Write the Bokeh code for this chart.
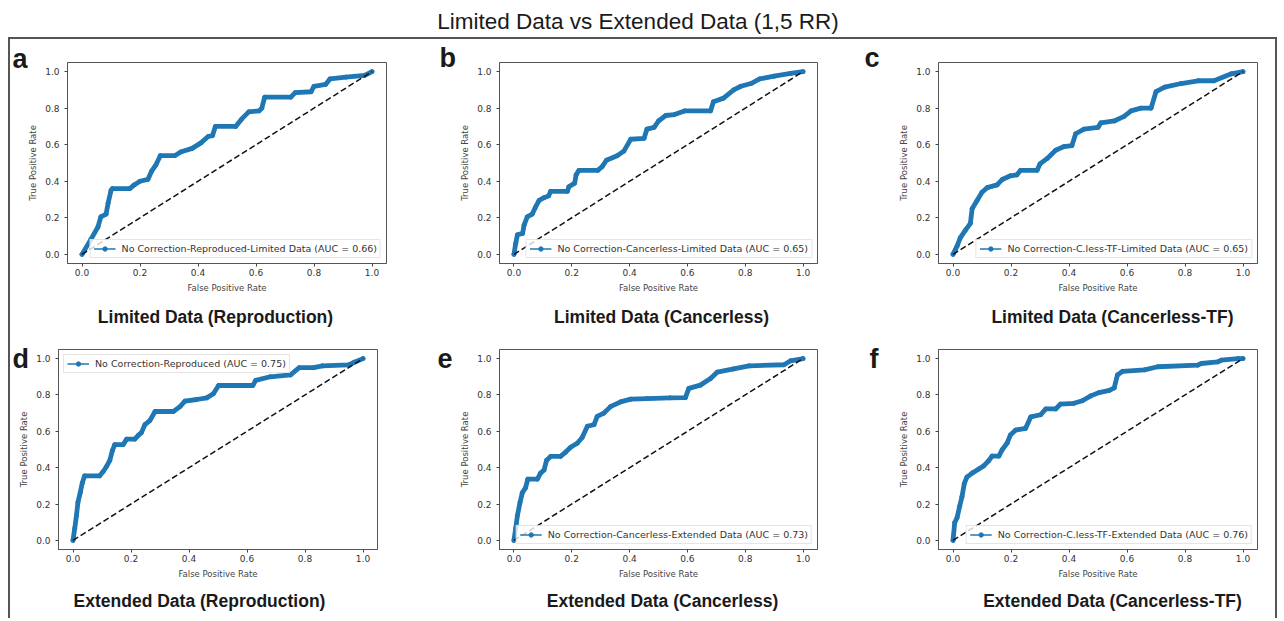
from bokeh.plotting import figure
from bokeh.models import (Range1d, Label, Legend, LegendItem, FixedTicker, PrintfTickFormatter, Spacer,
                          GridBox)
from bokeh.layouts import row, column
from bokeh.embed import file_html
from bokeh.resources import INLINE

# ---------------- data ----------------
main_title = "Limited Data vs Extended Data (1,5 RR)"

letters = ["a", "b", "c", "d", "e", "f"]
subtitles = ["Limited Data (Reproduction)", "Limited Data (Cancerless)", "Limited Data (Cancerless-TF)",
             "Extended Data (Reproduction)", "Extended Data (Cancerless)", "Extended Data (Cancerless-TF)"]
legend_labels = ["No Correction-Reproduced-Limited Data (AUC = 0.66)",
                 "No Correction-Cancerless-Limited Data (AUC = 0.65)",
                 "No Correction-C.less-TF-Limited Data (AUC = 0.65)",
                 "No Correction-Reproduced (AUC = 0.75)",
                 "No Correction-Cancerless-Extended Data (AUC = 0.73)",
                 "No Correction-C.less-TF-Extended Data (AUC = 0.76)"]

fpr_a = [0.0, 0.03, 0.055, 0.065, 0.083, 0.09, 0.10, 0.105, 0.165, 0.18, 0.20, 0.227, 0.24, 0.255, 0.27, 0.32,
         0.34, 0.38, 0.41, 0.435, 0.45, 0.46, 0.53, 0.55, 0.575, 0.61, 0.62, 0.63, 0.72, 0.735, 0.79, 0.80, 0.84,
         0.855, 0.91, 0.975, 1.0]
tpr_a = [0.0, 0.08, 0.15, 0.205, 0.22, 0.28, 0.35, 0.36, 0.36, 0.38, 0.40, 0.41, 0.455, 0.49, 0.54, 0.54,
         0.56, 0.58, 0.61, 0.645, 0.65, 0.70, 0.70, 0.74, 0.78, 0.785, 0.80, 0.86, 0.86, 0.885, 0.89, 0.92, 0.93,
         0.96, 0.97, 0.98, 1.0]

fpr_b = [0.0, 0.006, 0.012, 0.03, 0.035, 0.046, 0.063, 0.075, 0.087, 0.104, 0.12, 0.127, 0.185, 0.19, 0.21,
         0.215, 0.225, 0.29, 0.305, 0.32, 0.357, 0.38, 0.404, 0.45, 0.46, 0.485, 0.50, 0.525, 0.555, 0.59, 0.68,
         0.69, 0.725, 0.76, 0.785, 0.82, 0.85, 0.90, 0.957, 1.0]
tpr_b = [0.0, 0.06, 0.107, 0.115, 0.16, 0.205, 0.22, 0.26, 0.295, 0.31, 0.32, 0.345, 0.345, 0.37, 0.39,
         0.435, 0.46, 0.46, 0.48, 0.515, 0.54, 0.565, 0.63, 0.635, 0.685, 0.695, 0.73, 0.76, 0.765, 0.785, 0.785,
         0.835, 0.855, 0.90, 0.92, 0.935, 0.96, 0.975, 0.99, 1.0]

fpr_c = [0.0, 0.014, 0.025, 0.043, 0.06, 0.066, 0.083, 0.10, 0.118, 0.152, 0.17, 0.198, 0.22, 0.233, 0.29,
         0.30, 0.325, 0.354, 0.383, 0.41, 0.423, 0.452, 0.50, 0.51, 0.556, 0.59, 0.614, 0.648, 0.683, 0.70, 0.73,
         0.787, 0.845, 0.90, 0.96, 1.0]
tpr_c = [0.0, 0.045, 0.09, 0.133, 0.17, 0.25, 0.295, 0.34, 0.365, 0.38, 0.41, 0.43, 0.435, 0.46, 0.46,
         0.495, 0.525, 0.57, 0.59, 0.595, 0.66, 0.685, 0.695, 0.72, 0.73, 0.755, 0.785, 0.80, 0.80, 0.89, 0.915,
         0.935, 0.95, 0.95, 0.988, 1.0]

fpr_d = [0.0, 0.006, 0.012, 0.017, 0.025, 0.032, 0.04, 0.092, 0.104, 0.115, 0.127, 0.136, 0.144, 0.173, 0.185,
         0.213, 0.225, 0.236, 0.248, 0.265, 0.283, 0.346, 0.369, 0.386, 0.427, 0.461, 0.484, 0.502, 0.62, 0.63,
         0.68, 0.75, 0.78, 0.83, 0.86, 0.95, 0.97, 1.0]
tpr_d = [0.0, 0.066, 0.137, 0.209, 0.263, 0.316, 0.355, 0.355, 0.379, 0.405, 0.44, 0.495, 0.527, 0.527, 0.557,
         0.557, 0.578, 0.593, 0.637, 0.659, 0.709, 0.709, 0.736, 0.766, 0.775, 0.784, 0.807, 0.852, 0.852, 0.88,
         0.90, 0.91, 0.95, 0.95, 0.96, 0.965, 0.98, 1.0]

fpr_e = [0.0, 0.006, 0.012, 0.021, 0.029, 0.04, 0.048, 0.081, 0.092, 0.104, 0.113, 0.127, 0.161, 0.179, 0.196,
         0.219, 0.236, 0.254, 0.277, 0.288, 0.311, 0.334, 0.369, 0.404, 0.461, 0.54, 0.593, 0.605, 0.645, 0.68,
         0.703, 0.76, 0.813, 0.934, 0.957, 1.0]
tpr_e = [0.0, 0.066, 0.137, 0.209, 0.263, 0.289, 0.337, 0.337, 0.37, 0.387, 0.441, 0.462, 0.462, 0.486, 0.512,
         0.534, 0.566, 0.628, 0.637, 0.682, 0.70, 0.736, 0.762, 0.777, 0.78, 0.784, 0.785, 0.836, 0.854, 0.89,
         0.925, 0.943, 0.96, 0.966, 0.988, 1.0]

fpr_f = [0.0, 0.006, 0.014, 0.023, 0.031, 0.039, 0.048, 0.066, 0.089, 0.106, 0.123, 0.135, 0.158, 0.17, 0.187,
         0.198, 0.216, 0.25, 0.268, 0.302, 0.32, 0.354, 0.371, 0.417, 0.446, 0.475, 0.504, 0.539, 0.556, 0.567,
         0.585, 0.66, 0.706, 0.844, 0.856, 0.913, 0.925, 0.983, 1.0]
tpr_f = [0.0, 0.098, 0.125, 0.188, 0.241, 0.313, 0.348, 0.37, 0.393, 0.41, 0.438, 0.464, 0.464, 0.50, 0.536,
         0.58, 0.607, 0.616, 0.679, 0.691, 0.723, 0.723, 0.75, 0.754, 0.768, 0.795, 0.813, 0.825, 0.839, 0.91,
         0.93, 0.938, 0.955, 0.964, 0.973, 0.982, 0.991, 1.0, 1.0]

chance_x = [0.0, 1.0]
chance_y = [0.0, 1.0]
tick_values = [0.0, 0.2, 0.4, 0.6, 0.8, 1.0]

fprs = [fpr_a, fpr_b, fpr_c, fpr_d, fpr_e, fpr_f]
tprs = [tpr_a, tpr_b, tpr_c, tpr_d, tpr_e, tpr_f]
legend_locs = ["bottom_right", "bottom_right", "bottom_right", "top_left", "bottom_right", "bottom_right"]

# ---------------- layout geometry (page pixels) ----------------
BLUE = "#1f77b4"
SMALL_FONT = "DejaVu Sans"
BIG_FONT = "Liberation Sans"
BORDER = "#555555"
PAGE_W, PAGE_H = 1277, 618
BASELINE_SHIFT = 0.36  # em; empirical correction of the rendered text baseline

# cell: (cx, cy, w, h); frame: (fl, fr, ft, fb); letter (x, baseline); subtitle (center x, baseline)
geoms = [
    dict(cell=(10, 39, 410, 291), frame=(67, 386, 62, 268), letter=(12, 68), sub=(215, 323)),
    dict(cell=(420, 39, 430, 291), frame=(499, 817, 58, 263), letter=(439, 67), sub=(661, 323)),
    dict(cell=(850, 39, 425, 291), frame=(938, 1257, 62, 268), letter=(864, 67), sub=(1112, 323)),
    dict(cell=(10, 330, 410, 288), frame=(58, 377, 349, 555), letter=(12, 368), sub=(199, 607)),
    dict(cell=(420, 330, 430, 288), frame=(499, 817, 349, 555), letter=(437, 368), sub=(662, 607)),
    dict(cell=(850, 330, 425, 288), frame=(938, 1257, 343, 549), letter=(869, 368), sub=(1112, 607)),
]


def make_panel(i):
    g = geoms[i]
    cx, cy, w, h = g["cell"]
    fl, fr, ft, fb = g["frame"]
    p = figure(width=w, height=h, output_backend="svg", toolbar_location=None, title=None,
               x_range=Range1d(-0.05, 1.05), y_range=Range1d(-0.05, 1.05),
               min_border_left=fl - cx, min_border_right=cx + w - fr,
               min_border_top=ft - cy, min_border_bottom=cy + h - fb,
               background_fill_color="white", border_fill_color="white")
    p.grid.visible = False
    p.outline_line_color = "#555555"
    p.outline_line_width = 1
    for ax in (p.xaxis[0], p.yaxis[0]):
        ax.ticker = FixedTicker(ticks=tick_values)
        ax.formatter = PrintfTickFormatter(format="%.1f")
        ax.minor_tick_line_color = None
        ax.major_tick_in = 0
        ax.major_tick_out = 3
        ax.major_tick_line_color = "#444444"
        ax.axis_line_color = "#555555"
        ax.major_label_text_font = SMALL_FONT
        ax.major_label_text_font_size = "9px"
        ax.major_label_text_color = "#333333"
        ax.axis_label_text_font = SMALL_FONT
        ax.axis_label_text_font_size = "8.5px"
        ax.axis_label_text_font_style = "normal"
        ax.axis_label_text_color = "#444444"
        ax.axis_label_standoff = 4
    p.xaxis.axis_label = "False Positive Rate"
    p.yaxis.axis_label = "True Positive Rate"
    p.xaxis.major_label_standoff = 2
    p.yaxis.major_label_standoff = 5

    fpr, tpr = fprs[i], tprs[i]
    p.line(fpr, tpr, line_color=BLUE, line_width=4.8, line_cap="round", line_join="round")
    thin = p.line(fpr, tpr, line_color=BLUE, line_width=1.5)
    dots = p.scatter(fpr, tpr, marker="circle", size=4, fill_color=BLUE, line_color=BLUE)
    p.line(chance_x, chance_y, line_color="#111111", line_width=1.5, line_dash="6 3")

    legend = Legend(items=[LegendItem(label=legend_labels[i], renderers=[thin, dots])],
                    location=legend_locs[i], margin=5, padding=3, spacing=0,
                    glyph_width=22, glyph_height=11, label_height=11, label_standoff=6,
                    label_text_font=SMALL_FONT, label_text_font_size="9.5px", label_text_color="#333333",
                    border_line_color="#cccccc", border_line_width=1,
                    background_fill_color="white", background_fill_alpha=0.8)
    p.add_layout(legend, "center")
    return p


panels = [make_panel(i) for i in range(6)]

# borders of the outer box
top_line = Spacer(width=1269, height=2, styles={"background-color": BORDER})
left_line = Spacer(width=2, height=579, styles={"background-color": BORDER})
right_line = Spacer(width=2, height=579, styles={"background-color": BORDER})

grid = column(row(panels[0], panels[1], panels[2]), row(panels[3], panels[4], panels[5]))
panel_layout = column(Spacer(width=PAGE_W, height=37),
                      row(Spacer(width=8, height=2), top_line),
                      row(Spacer(width=8, height=579), left_line, grid, right_line))

# transparent overlay carrying the page texts (title, panel letters, panel captions)
overlay = figure(width=PAGE_W, height=PAGE_H, output_backend="svg", toolbar_location=None, title=None,
                 x_range=Range1d(0, PAGE_W), y_range=Range1d(PAGE_H, 0), min_border=0,
                 x_axis_location=None, y_axis_location=None, outline_line_color=None,
                 background_fill_alpha=0, border_fill_alpha=0)
overlay.grid.visible = False


def add_text(x, baseline, text, size, bold, align):
    overlay.add_layout(Label(x=x, y=baseline - BASELINE_SHIFT * size, text=text, text_font=BIG_FONT,
                             text_font_size=f"{size}px", text_font_style="bold" if bold else "normal",
                             text_color="#1a1a1a", text_align=align, text_baseline="alphabetic"))


add_text(637.5, 29, main_title, 22.5, False, "center")
for i in range(6):
    g = geoms[i]
    lx, lb = g["letter"]
    add_text(lx, lb, letters[i], 27, True, "left")
    sx, sb = g["sub"]
    add_text(sx, sb, subtitles[i], 17.5, True, "center")

page = GridBox(children=[(panel_layout, 0, 0), (overlay, 0, 0)])

open("out.html", "w").write(file_html(page, INLINE))
